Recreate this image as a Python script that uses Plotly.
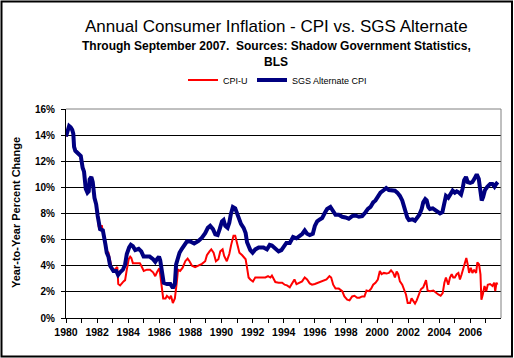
import plotly.graph_objects as go

# ---------------- data ----------------
sgs_years = [1980.0, 1980.1, 1980.2, 1980.3, 1980.4, 1980.47, 1980.52, 1980.6, 1980.8, 1980.95,
             1981.07, 1981.16, 1981.27, 1981.38, 1981.46, 1981.52, 1981.63, 1981.72, 1981.83, 1981.94,
             1982.04, 1982.1, 1982.19, 1982.37, 1982.45, 1982.54, 1982.62, 1982.73, 1982.84, 1982.95,
             1983.05, 1983.23, 1983.35, 1983.48, 1983.66, 1983.8, 1983.91, 1984.06, 1984.17, 1984.3,
             1984.45, 1984.67, 1984.84, 1984.99, 1985.16, 1985.38, 1985.6, 1985.74, 1985.85, 1985.98,
             1986.06, 1986.17, 1986.28, 1986.49, 1986.71, 1986.87, 1987.0, 1987.08, 1987.17, 1987.3,
             1987.45, 1987.6, 1987.77, 1987.99, 1988.24, 1988.52, 1988.74, 1988.95, 1989.12, 1989.27,
             1989.45, 1989.6, 1989.75, 1989.88, 1990.03, 1990.13, 1990.24, 1990.39, 1990.5, 1990.6,
             1990.73, 1990.88, 1991.0, 1991.1, 1991.25, 1991.42, 1991.55, 1991.64, 1991.74, 1991.85,
             1992.0, 1992.17, 1992.39, 1992.7, 1992.92, 1993.1, 1993.24, 1993.46, 1993.67, 1993.85,
             1994.0, 1994.17, 1994.39, 1994.6, 1994.82, 1995.03, 1995.2, 1995.35, 1995.5, 1995.67,
             1995.87, 1996.0, 1996.15, 1996.32, 1996.47, 1996.62, 1996.79, 1997.0, 1997.15, 1997.33,
             1997.54, 1997.76, 1997.97, 1998.18, 1998.4, 1998.61, 1998.83, 1999.04, 1999.26, 1999.41,
             1999.58, 1999.75, 1999.9, 2000.05, 2000.22, 2000.44, 2000.59, 2000.76, 2000.97, 2001.15,
             2001.3, 2001.47, 2001.62, 2001.73, 2001.86, 2001.94, 2002.05, 2002.16, 2002.29, 2002.44,
             2002.59, 2002.72, 2002.87, 2002.97, 2003.1, 2003.19, 2003.3, 2003.4, 2003.58, 2003.73,
             2003.88, 2004.05, 2004.2, 2004.33, 2004.43, 2004.58, 2004.73, 2004.86, 2005.0, 2005.12,
             2005.27, 2005.4, 2005.5, 2005.6, 2005.72, 2005.83, 2005.99, 2006.13, 2006.26, 2006.41,
             2006.54, 2006.62, 2006.73, 2006.82, 2006.94, 2007.09, 2007.27, 2007.42, 2007.55, 2007.65,
             2007.76]
sgs_values = [13.9, 14.2, 14.7, 14.6, 14.4, 14.1, 13.1, 12.8, 12.6, 12.4,
              11.5, 11.2, 9.9, 9.6, 9.7, 10.6, 10.8, 10.4, 9.2, 8.7,
              7.8, 7.1, 6.8, 6.7, 6.3, 5.6, 5.0, 4.7, 4.0, 3.7,
              3.6, 3.6, 3.3, 3.5, 3.7, 4.1, 4.9, 5.4, 5.6, 5.5,
              5.2, 5.3, 5.1, 4.7, 4.7, 4.7, 4.5, 4.3, 4.5, 4.7,
              4.4, 3.3, 2.7, 2.6, 2.6, 2.3, 2.6, 4.1, 4.6, 5.0,
              5.3, 5.6, 5.85, 5.85, 5.7, 5.9, 6.15, 6.5, 6.9, 7.05,
              6.8, 6.4, 6.35, 6.8, 7.4, 7.5, 7.05, 6.9, 7.3, 7.95,
              8.5, 8.4, 7.95, 7.55, 7.2, 6.9, 6.5, 5.8, 5.4, 5.2,
              5.0, 5.25, 5.4, 5.4, 5.25, 5.6, 5.55, 5.3, 5.1, 5.2,
              5.45, 5.75, 5.75, 6.2, 6.1, 6.3, 6.45, 6.7, 6.45, 6.35,
              6.45, 7.05, 7.4, 7.55, 7.65, 8.0, 8.35, 8.5, 8.2, 7.9,
              7.9, 7.75, 7.7, 7.6, 7.8, 7.85, 7.75, 7.8, 8.1, 8.35,
              8.5, 8.85, 9.0, 9.35, 9.6, 9.8, 9.95, 9.8, 9.8, 9.75,
              9.6, 9.35, 9.0, 8.5, 8.1, 7.7, 7.5, 7.55, 7.55, 7.45,
              7.65, 7.9, 8.35, 8.85, 9.1, 9.0, 8.5, 8.35, 8.4, 8.25,
              8.1, 8.0, 8.1, 9.0, 9.35, 9.2, 9.45, 9.75, 9.6, 9.7,
              9.6, 9.45, 9.9, 10.55, 10.8, 10.4, 10.35, 10.4, 10.65, 11.0,
              10.65, 9.8, 9.0, 9.25, 9.8, 10.05, 10.25, 10.25, 10.05, 10.25,
              10.4]

cpi_years = [1980.0, 1980.1, 1980.2, 1980.3, 1980.4, 1980.47, 1980.52, 1980.6, 1980.8, 1980.95,
             1981.07, 1981.16, 1981.27, 1981.38, 1981.46, 1981.52, 1981.63, 1981.72, 1981.83, 1981.94,
             1982.04, 1982.1, 1982.19, 1982.3, 1982.37, 1982.45, 1982.54, 1982.62, 1982.73, 1982.84,
             1982.95, 1983.05, 1983.2, 1983.3, 1983.36, 1983.48, 1983.7, 1983.8, 1983.91, 1984.03,
             1984.13, 1984.2, 1984.3, 1984.5, 1984.75, 1984.84, 1985.0, 1985.2, 1985.4, 1985.6,
             1985.74, 1985.85, 1986.0, 1986.06, 1986.17, 1986.25, 1986.4, 1986.49, 1986.66, 1986.75,
             1986.87, 1987.0, 1987.13, 1987.2, 1987.34, 1987.5, 1987.67, 1987.82, 1987.94, 1988.1,
             1988.3, 1988.52, 1988.74, 1988.95, 1989.06, 1989.23, 1989.34, 1989.49, 1989.64, 1989.8,
             1989.92, 1990.07, 1990.17, 1990.34, 1990.5, 1990.62, 1990.77, 1990.88, 1991.0, 1991.15,
             1991.33, 1991.55, 1991.64, 1991.74, 1991.85, 1992.02, 1992.17, 1992.39, 1992.6, 1992.82,
             1992.99, 1993.14, 1993.24, 1993.46, 1993.67, 1993.9, 1994.06, 1994.21, 1994.39, 1994.54,
             1994.69, 1994.82, 1995.03, 1995.18, 1995.35, 1995.5, 1995.67, 1995.82, 1996.0, 1996.2,
             1996.36, 1996.58, 1996.75, 1996.94, 1997.05, 1997.18, 1997.33, 1997.54, 1997.76, 1997.9,
             1998.08, 1998.23, 1998.4, 1998.55, 1998.72, 1998.87, 1999.04, 1999.19, 1999.32, 1999.47,
             1999.62, 1999.75, 1999.9, 2000.05, 2000.18, 2000.29, 2000.44, 2000.61, 2000.76, 2000.9,
             2001.04, 2001.15, 2001.26, 2001.36, 2001.47, 2001.62, 2001.73, 2001.86, 2001.97, 2002.12,
             2002.22, 2002.33, 2002.44, 2002.55, 2002.72, 2002.82, 2002.97, 2003.08, 2003.15, 2003.25,
             2003.4, 2003.62, 2003.79, 2003.94, 2004.09, 2004.22, 2004.33, 2004.43, 2004.58, 2004.69,
             2004.8, 2004.9, 2005.0, 2005.12, 2005.23, 2005.33, 2005.44, 2005.55, 2005.65, 2005.74,
             2005.83, 2005.92, 2006.03, 2006.13, 2006.24, 2006.37, 2006.45, 2006.56, 2006.65, 2006.71,
             2006.8, 2006.91, 2007.02, 2007.12, 2007.27, 2007.42, 2007.53, 2007.6, 2007.68, 2007.74]
cpi_values = [13.9, 14.2, 14.7, 14.6, 14.4, 14.1, 13.1, 12.8, 12.6, 12.4,
              11.5, 11.2, 9.9, 9.6, 9.7, 10.6, 10.8, 10.4, 9.2, 8.7,
              7.8, 7.0, 6.7, 7.1, 6.6, 6.3, 5.7, 5.1, 5.0, 4.5,
              3.8, 3.6, 3.8, 3.9, 2.6, 2.5, 2.8, 2.9, 3.7, 4.5,
              4.7, 4.6, 4.2, 4.2, 4.2, 4.0, 3.6, 3.7, 3.7, 3.5,
              3.2, 3.5, 3.8, 3.3, 2.3, 1.5, 1.5, 1.7, 1.5, 1.7,
              1.15, 1.5, 2.8, 3.7, 3.6, 3.85, 4.35, 4.55, 4.35, 4.0,
              3.9, 4.0, 4.15, 4.35, 4.8, 5.1, 5.25, 5.0, 4.35, 4.5,
              5.1, 5.25, 4.75, 4.35, 4.9, 5.6, 6.3, 6.3, 5.6, 5.0,
              4.8, 4.5, 3.85, 3.1, 2.95, 2.8, 3.1, 3.1, 3.15, 3.1,
              3.2, 3.1, 3.25, 2.75, 2.7, 2.7, 2.55, 2.5, 2.35, 2.7,
              2.95, 2.6, 2.7, 2.8, 3.1, 2.95, 2.65, 2.55, 2.6, 2.7,
              2.8, 2.85, 2.95, 3.2, 3.1, 2.55, 2.25, 2.25, 2.05, 1.65,
              1.4, 1.35, 1.65, 1.7, 1.55, 1.55, 1.65, 1.65, 2.1, 2.05,
              2.25, 2.55, 2.7, 2.95, 3.6, 3.35, 3.45, 3.4, 3.45, 3.65,
              3.45, 3.1, 3.55, 3.35, 2.8, 2.55, 2.2, 1.8, 1.15, 1.15,
              1.5, 1.3, 1.1, 1.35, 1.8, 2.2, 2.35, 2.8, 2.9, 2.1,
              2.05, 2.1, 1.9, 1.8, 1.7, 1.9, 2.7, 3.1, 2.55, 3.1,
              3.35, 3.1, 3.1, 3.35, 3.45, 2.95, 3.35, 3.85, 4.1, 4.6,
              4.1, 3.45, 3.85, 3.45, 3.7, 3.45, 4.25, 4.1, 3.35, 1.4,
              1.8, 2.45, 2.05, 2.55, 2.6, 2.45, 2.7, 2.05, 2.7, 2.55]

tick_years = list(range(1980, 2008))
tick_labels = [str(y) if y % 2 == 0 else "" for y in tick_years]
y_ticks = [0, 2, 4, 6, 8, 10, 12, 14, 16]
y_tick_labels = [f"{v}%" for v in y_ticks]

series_names = ["CPI-U", "SGS Alternate CPI"]
title_text = "Annual Consumer Inflation - CPI vs. SGS Alternate"
subtitle_line1 = "Through September 2007.  Sources: Shadow Government Statistics,"
subtitle_line2 = "BLS"
y_title = "Year-to-Year Percent Change"

# ---------------- layout helpers ----------------
W, H = 514, 358
L, R, T, B = 66, 13, 109, 40
PW = W - L - R
PH = H - T - B
FONT = "Liberation Sans, Arial, sans-serif"


def px(x):
    return (x - L) / PW


def py(y):
    return (H - B - y) / PH


fig = go.Figure()
fig.add_trace(go.Scatter(x=cpi_years, y=cpi_values, mode="lines", name=series_names[0],
                         line=dict(color="#FF0000", width=2), legend="legend"))
fig.add_trace(go.Scatter(x=sgs_years, y=sgs_values, mode="lines", name=series_names[1],
                         line=dict(color="#000080", width=4), legend="legend2"))

legend_common = dict(orientation="h", xanchor="left", yanchor="middle",
                     font=dict(family=FONT, size=9, color="black"),
                     bgcolor="rgba(0,0,0,0)", borderwidth=0)

fig.update_layout(
    width=W, height=H,
    margin=dict(l=L, r=R, t=T, b=B, autoexpand=False),
    paper_bgcolor="white", plot_bgcolor="white",
    font=dict(family=FONT, color="black"),
    showlegend=True,
    legend=dict(x=px(183), y=py(80), **legend_common),
    legend2=dict(x=px(252), y=py(80), **legend_common),
    xaxis=dict(range=[1980, 2007.97], tickmode="array", tickvals=tick_years, ticktext=tick_labels,
               ticks="outside", ticklen=4, tickcolor="black", tickwidth=1,
               showline=True, linecolor="black", linewidth=1, showgrid=False, zeroline=False,
               tickfont=dict(family=FONT, size=10.5, color="black", weight="bold")),
    yaxis=dict(range=[0, 16], tickmode="array", tickvals=y_ticks, ticktext=y_tick_labels,
               ticks="outside", ticklen=4, tickcolor="black", tickwidth=1,
               showline=True, linecolor="black", linewidth=1,
               showgrid=True, gridcolor="black", gridwidth=1, zeroline=False,
               ticklabelstandoff=4,
               tickfont=dict(family=FONT, size=10, color="black", weight="bold")),
)

# plot-area border on top and right (grey), chart border (black)
fig.add_shape(type="line", xref="paper", yref="paper", x0=0, x1=1, y0=1, y1=1,
              line=dict(color="#808080", width=1), layer="above")
fig.add_shape(type="line", xref="paper", yref="paper", x0=1, x1=1, y0=0, y1=1,
              line=dict(color="#808080", width=1), layer="above")
fig.add_shape(type="rect", xref="paper", yref="paper",
              x0=px(1.5), x1=px(512), y0=py(356.5), y1=py(1.5),
              line=dict(color="black", width=2), layer="above")

fig.add_annotation(text=title_text, xref="paper", yref="paper", x=px(276), y=py(27),
                   showarrow=False, xanchor="center", yanchor="middle",
                   font=dict(family=FONT, size=17, color="black"))
fig.add_annotation(text=subtitle_line1, xref="paper", yref="paper", x=px(276), y=py(46),
                   showarrow=False, xanchor="center", yanchor="middle",
                   font=dict(family=FONT, size=12, color="black", weight="bold"))
fig.add_annotation(text=subtitle_line2, xref="paper", yref="paper", x=px(276), y=py(62),
                   showarrow=False, xanchor="center", yanchor="middle",
                   font=dict(family=FONT, size=12, color="black", weight="bold"))
fig.add_annotation(text=y_title, xref="paper", yref="paper", x=px(16), y=py(213),
                   showarrow=False, xanchor="center", yanchor="middle", textangle=-90,
                   font=dict(family=FONT, size=11, color="black", weight="bold"))

fig.write_html("out.html",
               config={"displayModeBar": False},
               post_script="document.body.style.margin='0';document.body.style.padding='0';"
                           "document.body.style.overflow='hidden';")
